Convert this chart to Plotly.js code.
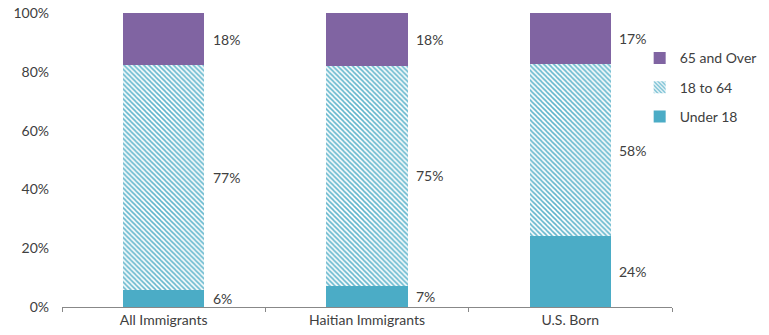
<!DOCTYPE html>
<html><head><meta charset="utf-8">
<script src="https://cdn.plot.ly/plotly-3.0.1.min.js"></script>
<style>html,body{margin:0;padding:0;background:#fff}#c{width:769px;height:335px}</style>
</head><body><div id="c"></div>
<script>
const categories = ["All Immigrants", "Haitian Immigrants", "U.S. Born"];
const under18 = [5.8, 7.2, 24.1];
const age18to64 = [76.5, 74.8, 58.6];
const over65 = [17.7, 18.0, 17.3];
const under18Labels = ["6%", "7%", "24%"];
const age18to64Labels = ["77%", "75%", "58%"];
const over65Labels = ["18%", "18%", "17%"];

const font = {family: "Lato, 'Open Sans', sans-serif", size: 14, color: "#404040"};

const traces = [
  {type: "bar", name: "Under 18", x: categories, y: under18, legendgroup: "a", legendrank: 3,
   marker: {color: "#4BACC6"}, hoverinfo: "skip"},
  {type: "bar", name: "18 to 64", x: categories, y: age18to64, legendgroup: "b", legendrank: 2,
   marker: {color: "#ffffff", pattern: {shape: "\\", fgcolor: "#5EB4CB", bgcolor: "#ffffff", size: 3.5, solidity: 0.45}},
   hoverinfo: "skip"},
  {type: "bar", name: "65 and Over", x: categories, y: over65, legendgroup: "c", legendrank: 1,
   marker: {color: "#8064A2"}, hoverinfo: "skip"}
];

const annotations = [];
const series = [[under18, under18Labels], [age18to64, age18to64Labels], [over65, over65Labels]];
categories.forEach((c, i) => {
  let base = 0;
  series.forEach(([vals, labs]) => {
    annotations.push({x: c, y: base + vals[i] / 2, text: labs[i], showarrow: false,
      xanchor: "left", xshift: 47, font: font});
    base += vals[i];
  });
});

const layout = {
  width: 769, height: 335,
  margin: {l: 62, r: 97, t: 13, b: 28, autoexpand: false},
  paper_bgcolor: "#fff", plot_bgcolor: "#fff",
  barmode: "stack", bargap: 0.6,
  font: font,
  showlegend: true,
  legend: {x: 0.947, y: 0.9, xanchor: "left", yanchor: "top", traceorder: "grouped",
    font: {family: font.family, size: 14, color: "#404040"}, itemwidth: 30, tracegroupgap: 8},
  xaxis: {showline: true, linecolor: "#888", linewidth: 1, ticks: "outside", tickson: "boundaries",
    ticklen: 4, tickcolor: "#888", showgrid: false, zeroline: false, tickfont: font},
  yaxis: {range: [0, 100], tickvals: [0, 20, 40, 60, 80, 100], ticktext: ["0%", "20%", "40%", "60%", "80%", "100%"],
    showgrid: false, zeroline: false, showline: false, ticks: "", tickfont: font, ticklabelstandoff: 12},
  annotations: annotations
};

Plotly.newPlot("c", traces, layout, {displayModeBar: false, staticPlot: true});
</script></body></html>
